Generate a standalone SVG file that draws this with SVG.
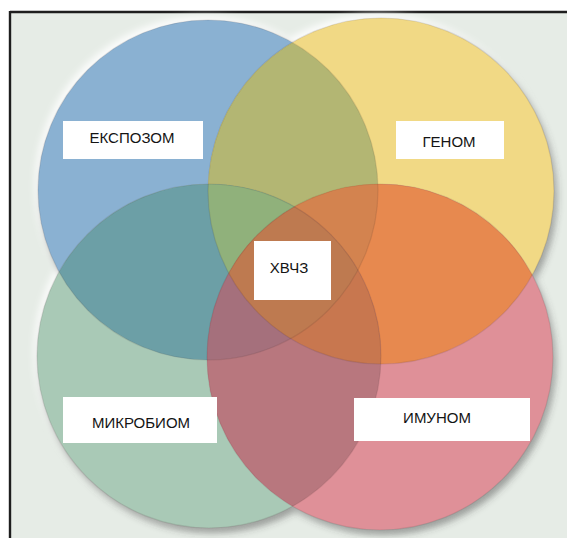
<svg xmlns="http://www.w3.org/2000/svg" xmlns:xlink="http://www.w3.org/1999/xlink" width="567" height="538" viewBox="0 0 567 538">
  <style>
    .box { fill: #ffffff; }
    .lbl { font-family: "Liberation Sans", Arial, sans-serif; font-size: 15px; fill: #141414; text-anchor: middle; }
    .rim { fill: none; stroke: #3a2a2a; stroke-opacity: 0.12; stroke-width: 1.2; }
  </style>
  <defs>
    <filter id="blur" x="-20%" y="-20%" width="140%" height="140%">
      <feGaussianBlur stdDeviation="3.5"/>
    </filter>
    <clipPath id="clipB"><circle cx="208" cy="190" r="170"/></clipPath>
    <clipPath id="clipY"><circle cx="381" cy="191" r="173"/></clipPath>
    <clipPath id="clipG"><circle cx="209" cy="356" r="172"/></clipPath>
    <clipPath id="clipR"><circle cx="380" cy="357" r="173"/></clipPath>
  </defs>

  <!-- backdrop and frame -->
  <g id="backdrop">
    <rect x="0" y="0" width="567" height="538" fill="#ffffff"/>
    <rect x="10" y="12" width="557" height="526" fill="#e6ece6"/>
    <line x1="10" y1="12" x2="567" y2="12" stroke="#1e1e1e" stroke-width="2.4"/>
    <line x1="10" y1="11" x2="10" y2="538" stroke="#1e1e1e" stroke-width="2.4"/>
  </g>

  <!-- soft light and shadow behind the circles -->
  <g id="shading" filter="url(#blur)">
    <g fill="#ffffff" opacity="0.9">
      <circle cx="205" cy="186" r="170"/>
      <circle cx="378" cy="187" r="173"/>
      <circle cx="206" cy="352" r="172"/>
      <circle cx="377" cy="353" r="173"/>
    </g>
    <g fill="#3c3c3c" opacity="0.45">
      <circle cx="211" cy="195" r="170"/>
      <circle cx="384" cy="196" r="173"/>
      <circle cx="212" cy="361" r="172"/>
      <circle cx="383" cy="362" r="173"/>
    </g>
  </g>

  <!-- the four circles -->
  <g id="circle-ekspozom"><circle cx="208" cy="190" r="170" fill="#8ab1d2"/></g>
  <g id="circle-genom"><circle cx="381" cy="191" r="173" fill="#f1d985"/></g>
  <g id="circle-mikrobiom"><circle cx="209" cy="356" r="172" fill="#a9c9b6"/></g>
  <g id="circle-imunom"><circle cx="380" cy="357" r="173" fill="#df9098"/></g>

  <!-- overlap regions -->
  <g id="overlaps">
    <!-- pairs -->
    <g clip-path="url(#clipB)"><circle cx="381" cy="191" r="173" fill="#b3b673"/></g>
    <g clip-path="url(#clipB)"><circle cx="209" cy="356" r="172" fill="#6c9fa6"/></g>
    <g clip-path="url(#clipY)"><circle cx="380" cy="357" r="173" fill="#e7894f"/></g>
    <g clip-path="url(#clipG)"><circle cx="380" cy="357" r="173" fill="#b8777e"/></g>
    <!-- triples -->
    <g clip-path="url(#clipB)"><g clip-path="url(#clipY)"><circle cx="209" cy="356" r="172" fill="#90b17b"/></g></g>
    <g clip-path="url(#clipB)"><g clip-path="url(#clipY)"><circle cx="380" cy="357" r="173" fill="#d3834f"/></g></g>
    <g clip-path="url(#clipB)"><g clip-path="url(#clipG)"><circle cx="380" cy="357" r="173" fill="#a5707c"/></g></g>
    <g clip-path="url(#clipY)"><g clip-path="url(#clipG)"><circle cx="380" cy="357" r="173" fill="#c8774f"/></g></g>
    <!-- all four -->
    <g clip-path="url(#clipB)"><g clip-path="url(#clipY)"><g clip-path="url(#clipG)"><circle cx="380" cy="357" r="173" fill="#be7a50"/></g></g></g>
  </g>

  <!-- soft rims -->
  <g id="rims">
    <circle class="rim" cx="208" cy="190" r="170"/>
    <circle class="rim" cx="381" cy="191" r="173"/>
    <circle class="rim" cx="209" cy="356" r="172"/>
    <circle class="rim" cx="380" cy="357" r="173"/>
  </g>

  <!-- labels -->
  <g id="node-ekspozom">
    <rect class="box" x="63" y="121" width="140" height="38"/>
    <text class="lbl" x="132" y="143">ЕКСПОЗОМ</text>
  </g>
  <g id="node-genom">
    <rect class="box" x="396" y="121" width="108" height="38"/>
    <text class="lbl" x="449" y="147">ГЕНОМ</text>
  </g>
  <g id="node-hvchz">
    <rect class="box" x="254" y="241" width="77" height="59"/>
    <text class="lbl" x="289" y="273">ХВЧЗ</text>
  </g>
  <g id="node-mikrobiom">
    <rect class="box" x="63" y="397" width="154" height="46"/>
    <text class="lbl" x="141" y="428">МИКРОБИОМ</text>
  </g>
  <g id="node-imunom">
    <rect class="box" x="354" y="398" width="176" height="43"/>
    <text class="lbl" x="437" y="423">ИМУНОМ</text>
  </g>
  <g id="connectors"/>
</svg>
